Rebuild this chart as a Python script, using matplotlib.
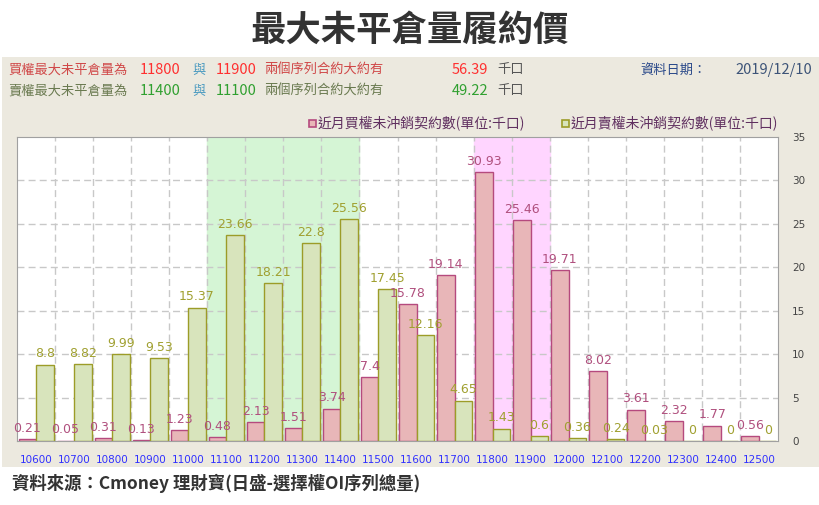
import matplotlib
matplotlib.use("Agg")
import matplotlib.pyplot as plt
from matplotlib.patches import Rectangle
import numpy as np

CJK = ["Noto Sans CJK TC", "DejaVu Sans"]
plt.rcParams["font.family"] = CJK

# strikes and near-month open interest (thousand contracts)
strikes = ["10600", "10700", "10800", "10900", "11000", "11100", "11200",
           "11300", "11400", "11500", "11600", "11700", "11800", "11900",
           "12000", "12100", "12200", "12300", "12400", "12500"]
call_oi = [0.21, 0.05, 0.31, 0.13, 1.23, 0.48, 2.13, 1.51, 3.74, 7.4,
           15.78, 19.14, 30.93, 25.46, 19.71, 8.02, 3.61, 2.32, 1.77, 0.56]
put_oi = [8.8, 8.82, 9.99, 9.53, 15.37, 23.66, 18.21, 22.8, 25.56, 17.45,
          12.16, 4.65, 1.43, 0.6, 0.36, 0.24, 0.03, 0, 0, 0]
put_band = ("11100", "11400")
call_band = ("11800", "11900")

W, H = 820, 505
fig = plt.figure(figsize=(W / 100, H / 100), dpi=100)
fig.patch.set_facecolor("white")


def fx(x):
    return x / W


def fy(y):
    return 1 - y / H


# beige panel behind the chart
fig.patches.append(Rectangle((fx(2), fy(467)), fx(818), (467 - 57) / H,
                             transform=fig.transFigure, facecolor="#ECE9DF",
                             edgecolor="none", zorder=-5))

fig.text(fx(410), fy(30), "最大未平倉量履約價", ha="center", va="center",
         fontsize=25.5, fontweight="bold", color="#333333")

# header lines
red_lbl, red_num = "#D04848", "#FF3030"
grn_lbl, grn_num = "#6A7A50", "#30A030"
row1 = [(8, "買權最大未平倉量為", red_lbl, 9.5), (140, "11800", red_num, 10.5),
        (192, "與", "#4A9AC0", 9.5), (216, "11900", red_num, 10.5),
        (264, "兩個序列合約大約有", red_lbl, 9.5), (452, "56.39", red_num, 10.5),
        (497, "千口", "#555555", 9.5)]
row2 = [(8, "賣權最大未平倉量為", grn_lbl, 9.5), (140, "11400", grn_num, 10.5),
        (192, "與", "#4A9AC0", 9.5), (216, "11100", grn_num, 10.5),
        (264, "兩個序列合約大約有", grn_lbl, 9.5), (452, "49.22", grn_num, 10.5),
        (497, "千口", "#555555", 9.5)]
for y, row in ((70, row1), (91, row2)):
    for x, s, c, fs in row:
        fig.text(fx(x), fy(y), s, ha="left", va="center", fontsize=fs, color=c)
fig.text(fx(640), fy(70), "資料日期：", ha="left", va="center",
         fontsize=9.5, color="#2B4A8A")
fig.text(fx(812), fy(70), "2019/12/10", ha="right", va="center",
         fontsize=10.5, color="#3D5478")

# chart
pink_fill, pink_edge, pink_txt = "#E8B6B8", "#B54A7E", "#B0507E"
grn_fill, grn_edge, grn_txt = "#D8E4BC", "#9C9C28", "#A0A030"

ax = fig.add_axes([fx(17), fy(441), (778 - 17) / W, (441 - 137) / H])
ax.set_facecolor("white")
x = np.arange(len(strikes))
bw = 0.46

ax.axvspan(strikes.index(put_band[0]) - 0.5, strikes.index(put_band[1]) + 0.5,
           color="#D5F5D5", zorder=0)
ax.axvspan(strikes.index(call_band[0]) - 0.5, strikes.index(call_band[1]) + 0.5,
           color="#FFD5FF", zorder=0)

for b in np.arange(0.5, len(strikes) - 0.5, 1):
    ax.axvline(b, color="#C8C8C8", lw=1, dashes=(5, 3), zorder=1)
for yv in range(5, 35, 5):
    ax.axhline(yv, color="#C8C8C8", lw=1, dashes=(5, 3), zorder=1)

bars_c = ax.bar(x - bw / 2, call_oi, bw, color=pink_fill, edgecolor=pink_edge,
                linewidth=1, zorder=2)
bars_p = ax.bar(x + bw / 2, put_oi, bw, color=grn_fill, edgecolor=grn_edge,
                linewidth=1, zorder=2)

for bars, vals, col in ((bars_c, call_oi, pink_txt), (bars_p, put_oi, grn_txt)):
    for bar, v in zip(bars, vals):
        ax.annotate(f"{v:g}", xy=(bar.get_x() + bar.get_width() / 2, v),
                    xytext=(0, 3), textcoords="offset points", ha="center",
                    va="bottom", fontsize=9, color=col, family="DejaVu Sans",
                    zorder=3, annotation_clip=False)

ax.set_xlim(-0.5, len(strikes) - 0.5)
ax.set_ylim(0, 35)
ax.set_xticks(x)
ax.set_xticklabels(strikes, fontsize=7.5, color="#3030FF", family="DejaVu Sans")
ax.yaxis.tick_right()
ax.set_yticks(range(0, 40, 5))
ax.set_yticklabels([str(v) for v in range(0, 40, 5)], fontsize=7.5,
                   color="#444444", family="DejaVu Sans")
ax.tick_params(axis="both", length=0)
ax.tick_params(axis="x", pad=10)
ax.tick_params(axis="y", pad=10)
for sp in ax.spines.values():
    sp.set_color("#A0A0A0")

# legend
for sx, tx, fc, ec, label in (
        (309, 318, pink_fill, pink_edge, "近月買權未沖銷契約數(單位:千口)"),
        (562, 571, grn_fill, grn_edge, "近月賣權未沖銷契約數(單位:千口)")):
    fig.patches.append(Rectangle((fx(sx), fy(127)), fx(7), 7 / H,
                                 transform=fig.transFigure, facecolor=fc,
                                 edgecolor=ec, lw=1.2, zorder=3))
    fig.text(fx(tx), fy(123), label, ha="left", va="center", fontsize=10,
             color="#603060")

fig.text(fx(12), fy(483), "資料來源：Cmoney 理財寶(日盛-選擇權OI序列總量)",
         ha="left", va="center", fontsize=12.5, fontweight="bold",
         color="#333333")

fig.savefig("out.png", dpi=100)
